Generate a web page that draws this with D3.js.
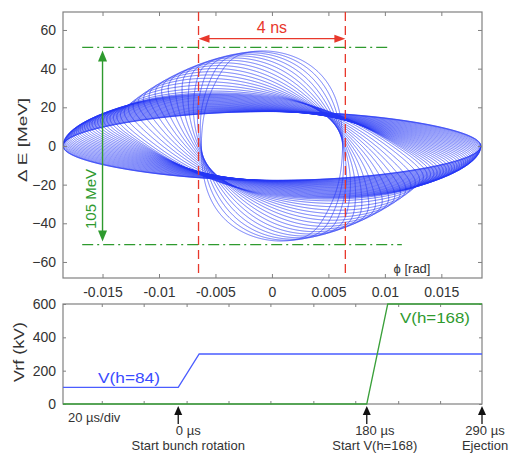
<!DOCTYPE html>
<html><head><meta charset="utf-8">
<script src="https://cdn.jsdelivr.net/npm/d3@7"></script>
<style>
body{margin:0;background:#fff;}
text{font-family:"Liberation Sans",Arial,sans-serif;}
</style>
</head><body>
<svg id="c" width="511" height="457"></svg>
<script>
// ---------- data ----------
const phiTicks = [-0.015, -0.01, -0.005, 0, 0.005, 0.01, 0.015];
const phiTickLabels = ["-0.015", "-0.01", "-0.005", "0", "0.005", "0.01", "0.015"];
const dETicks = [-60, -40, -20, 0, 20, 40, 60];
const vrfTicks = [0, 200, 400, 600];
const timeTicks = [-73, -33, 8, 48, 88, 129, 169, 210, 250];
const vh84Times = [-110, 0, 20, 290];
const vh84Values = [100, 100, 300, 300];
const vh168Times = [-110, 180, 200, 290];
const vh168Values = [0, 0, 600, 600];
const markerTimes = [0, 180, 290];
const markerLabels = ["0 µs", "180 µs", "290 µs"];
const markerCaptions = ["Start bunch rotation", "Start V(h=168)", "Ejection"];
const bunchLengthMarks = [-0.0065, 0.0065];   // rad (4 ns)
const energySpreadMarks = [-51, 51];          // MeV (105 MeV)
// longitudinal tracking parameters
const harmonic = 84;            // main RF harmonic (second RF at 2x)
const refVoltage = 300;         // kV
const energyUnit = 22;          // MeV per normalised momentum unit
const syncRate = 0.0063;        // rad/us small-amplitude synchrotron rate at 300 kV
const bunchHalfPhase = 0.0185;  // rad, initial bunch tips
const snapshotTimes = [0, 6, 12, 18, 24, 30, 36, 42, 48, 54, 60, 66, 72, 78, 84, 90, 96,
  102, 108, 114, 120, 126, 132, 138, 144, 150, 156, 162, 168, 174, 180, 186, 192, 198,
  204, 210, 216, 222, 228, 234, 240, 246, 252, 258, 264, 270, 276, 282, 288];

// ---------- layout ----------
const svg = d3.select("#c");
const TOP = {l: 63, r: 482, t: 12, b: 278};
const BOT = {l: 63, r: 482, t: 304, b: 404};
const frameCol = "#808080", textCol = "#333";
const blue = "#2436f4", red = "#e8382c", green = "#2e9a2e";

const x = d3.scaleLinear([-0.0185, 0.0186], [TOP.l, TOP.r]);
const y = d3.scaleLinear([-68.3, 69.3], [TOP.b, TOP.t]);
const xb = d3.scaleLinear([-110, 290], [BOT.l, BOT.r]);
const yb = d3.scaleLinear([0, 600], [BOT.b, BOT.t]);

const defs = svg.append("defs");
defs.append("clipPath").attr("id", "clipTop").append("rect")
  .attr("x", TOP.l).attr("y", TOP.t).attr("width", TOP.r - TOP.l).attr("height", TOP.b - TOP.t);
defs.append("clipPath").attr("id", "clipBot").append("rect")
  .attr("x", BOT.l).attr("y", BOT.t - 1).attr("width", BOT.r - BOT.l).attr("height", BOT.b - BOT.t + 2);

// ---------- phase-space tracking driven by the RF programme ----------
const v84 = d3.scaleLinear(vh84Times, vh84Values).clamp(true);
const v168 = d3.scaleLinear(vh168Times, vh168Values).clamp(true);
const th0 = bunchHalfPhase * harmonic;
const vInit = v84(0) / refVoltage;
const M = 2000;
let pts = [];
for (let i = 0; i < M; i++) {
  const s = 2 * Math.PI * i / M;
  const th = th0 * Math.cos(s);
  const pp = Math.sqrt(Math.max(0, 2 * vInit * (Math.cos(th) - Math.cos(th0))));
  pts.push([th, Math.sin(s) >= 0 ? pp : -pp]);
}
const dtUs = 0.5, dtau = syncRate * dtUs;
function deriv(th, p, a1, a2) { return [p, -(a1 * Math.sin(th) + a2 * Math.sin(2 * th))]; }
function step(pt, tUs) {
  const a1 = v84(tUs + dtUs / 2) / refVoltage, a2 = v168(tUs + dtUs / 2) / refVoltage;
  const [t, p] = pt;
  const k1 = deriv(t, p, a1, a2);
  const k2 = deriv(t + dtau / 2 * k1[0], p + dtau / 2 * k1[1], a1, a2);
  const k3 = deriv(t + dtau / 2 * k2[0], p + dtau / 2 * k2[1], a1, a2);
  const k4 = deriv(t + dtau * k3[0], p + dtau * k3[1], a1, a2);
  return [t + dtau / 6 * (k1[0] + 2 * k2[0] + 2 * k3[0] + k4[0]),
          p + dtau / 6 * (k1[1] + 2 * k2[1] + 2 * k3[1] + k4[1])];
}
const snapshots = [];
let tNow = 0, si = 0;
while (si < snapshotTimes.length) {
  if (Math.abs(tNow - snapshotTimes[si]) < dtUs / 2) {
    snapshots.push(pts.map(d => [d[0] / harmonic, d[1] * energyUnit]));
    si++;
    continue;
  }
  pts = pts.map(d => step(d, tNow));
  tNow += dtUs;
}

// ---------- top plot ----------
const gTop = svg.append("g");
const line = d3.line().x(d => x(d[0])).y(d => y(d[1]));
gTop.append("g").attr("clip-path", "url(#clipTop)")
  .selectAll("path").data(snapshots).join("path")
  .attr("d", d => line(d) + "Z")
  .attr("fill", "none").attr("stroke", blue).attr("stroke-width", 0.8).attr("stroke-opacity", 0.85);

gTop.append("rect").attr("x", TOP.l).attr("y", TOP.t).attr("width", TOP.r - TOP.l).attr("height", TOP.b - TOP.t)
  .attr("fill", "none").attr("stroke", frameCol).attr("stroke-width", 1.2);

function styleAxis(g) {
  g.select(".domain").remove();
  g.selectAll(".tick line").attr("stroke", frameCol).attr("stroke-width", 1);
  g.selectAll(".tick text").attr("fill", textCol).attr("font-size", 14).attr("font-family", "Liberation Sans, Arial, sans-serif");
}
gTop.append("g").attr("transform", `translate(0,${TOP.b})`)
  .call(d3.axisBottom(x).tickValues(phiTicks).tickFormat((d, i) => phiTickLabels[i]).tickSize(-4).tickPadding(9))
  .call(styleAxis);
gTop.append("g").attr("transform", `translate(0,${TOP.t})`)
  .call(d3.axisTop(x).tickValues(phiTicks).tickFormat("").tickSize(-4))
  .call(styleAxis);
gTop.append("g").attr("transform", `translate(${TOP.l},0)`)
  .call(d3.axisLeft(y).tickValues(dETicks).tickSize(-4).tickPadding(7))
  .call(styleAxis);
gTop.append("g").attr("transform", `translate(${TOP.r},0)`)
  .call(d3.axisRight(y).tickValues(dETicks).tickFormat("").tickSize(-4))
  .call(styleAxis);

gTop.selectAll("line.bl").data(bunchLengthMarks).join("line")
  .attr("x1", d => x(d)).attr("x2", d => x(d)).attr("y1", TOP.t).attr("y2", TOP.b)
  .attr("stroke", red).attr("stroke-width", 1.3).attr("stroke-dasharray", "9,5");
const greenEnds = [0.0115, 0.0105];
gTop.selectAll("line.es").data(energySpreadMarks).join("line")
  .attr("x1", x(-0.0168)).attr("x2", (d, i) => x(greenEnds[i]))
  .attr("y1", d => y(d)).attr("y2", d => y(d))
  .attr("stroke", green).attr("stroke-width", 1.2).attr("stroke-dasharray", "11,4,2,4");

const ay = y(55.5);
const rx1 = x(bunchLengthMarks[0]), rx2 = x(bunchLengthMarks[1]);
gTop.append("line").attr("x1", rx1 + 8).attr("x2", rx2 - 8).attr("y1", ay).attr("y2", ay)
  .attr("stroke", red).attr("stroke-width", 1.3);
gTop.append("path").attr("d", `M${rx1},${ay}L${rx1 + 11},${ay - 4}L${rx1 + 11},${ay + 4}Z`).attr("fill", red);
gTop.append("path").attr("d", `M${rx2},${ay}L${rx2 - 11},${ay - 4}L${rx2 - 11},${ay + 4}Z`).attr("fill", red);
gTop.append("text").attr("x", (rx1 + rx2) / 2).attr("y", 33).attr("text-anchor", "middle")
  .attr("fill", red).attr("font-size", 16).text("4 ns");

const gx = x(-0.015);
const gy1 = y(energySpreadMarks[1]), gy2 = y(energySpreadMarks[0]);
gTop.append("line").attr("x1", gx).attr("x2", gx).attr("y1", gy1 + 8).attr("y2", gy2 - 8)
  .attr("stroke", green).attr("stroke-width", 1.4);
gTop.append("path").attr("d", `M${gx},${gy1 + 3}L${gx - 4.5},${gy1 + 14}L${gx + 4.5},${gy1 + 14}Z`).attr("fill", green);
gTop.append("path").attr("d", `M${gx},${gy2 - 3}L${gx - 4.5},${gy2 - 14}L${gx + 4.5},${gy2 - 14}Z`).attr("fill", green);
gTop.append("text").attr("transform", `translate(96,199) rotate(-90)`).attr("text-anchor", "middle")
  .attr("fill", green).attr("font-size", 15).text("105 MeV");

gTop.append("text").attr("transform", `translate(27,140) rotate(-90)`).attr("text-anchor", "middle")
  .attr("fill", textCol).attr("font-size", 13).attr("textLength", 84).attr("lengthAdjust", "spacingAndGlyphs")
  .text("Δ E [MeV]");
gTop.append("text").attr("x", 412).attr("y", 273).attr("text-anchor", "middle")
  .attr("fill", textCol).attr("font-size", 13).text("ϕ [rad]");

// ---------- bottom plot ----------
const gBot = svg.append("g");
gBot.append("rect").attr("x", BOT.l).attr("y", BOT.t).attr("width", BOT.r - BOT.l).attr("height", BOT.b - BOT.t)
  .attr("fill", "none").attr("stroke", frameCol).attr("stroke-width", 1.2);
gBot.append("g").attr("transform", `translate(0,${BOT.b})`)
  .call(d3.axisBottom(xb).tickValues(timeTicks).tickFormat("").tickSize(-3)).call(styleAxis);
gBot.append("g").attr("transform", `translate(0,${BOT.t})`)
  .call(d3.axisTop(xb).tickValues(timeTicks).tickFormat("").tickSize(-3)).call(styleAxis);
gBot.append("g").attr("transform", `translate(${BOT.l},0)`)
  .call(d3.axisLeft(yb).tickValues(vrfTicks).tickSize(-3).tickPadding(7)).call(styleAxis);
gBot.append("g").attr("transform", `translate(${BOT.r},0)`)
  .call(d3.axisRight(yb).tickValues(vrfTicks).tickFormat("").tickSize(-3)).call(styleAxis);

const lineB = d3.line().x(d => xb(d[0])).y(d => yb(d[1]));
const gLines = gBot.append("g").attr("clip-path", "url(#clipBot)");
gLines.append("path").attr("d", lineB(vh84Times.map((t, i) => [t, vh84Values[i]])))
  .attr("fill", "none").attr("stroke", "#4a5cff").attr("stroke-width", 1.3);
gLines.append("path").attr("d", lineB(vh168Times.map((t, i) => [t, vh168Values[i]])))
  .attr("fill", "none").attr("stroke", "#3aa03a").attr("stroke-width", 1.3);

gBot.append("text").attr("x", 129).attr("y", 383).attr("text-anchor", "middle")
  .attr("fill", "#3a4cff").attr("font-size", 15).attr("textLength", 62).attr("lengthAdjust", "spacingAndGlyphs").text("V(h=84)");
gBot.append("text").attr("x", 435).attr("y", 323).attr("text-anchor", "middle")
  .attr("fill", "#2e9a2e").attr("font-size", 15).attr("textLength", 70).attr("lengthAdjust", "spacingAndGlyphs").text("V(h=168)");
gBot.append("text").attr("transform", `translate(24,352) rotate(-90)`).attr("text-anchor", "middle")
  .attr("fill", textCol).attr("font-size", 14).attr("textLength", 60).attr("lengthAdjust", "spacingAndGlyphs").text("Vrf (kV)");
gBot.append("text").attr("x", 68).attr("y", 422).attr("fill", textCol).attr("font-size", 13).text("20 µs/div");

const labelOffsets = [10, 8, 3];
markerTimes.forEach((t, i) => {
  const mx = xb(t);
  gBot.append("line").attr("x1", mx).attr("x2", mx).attr("y1", 414).attr("y2", 424)
    .attr("stroke", "#111").attr("stroke-width", 1.3);
  gBot.append("path").attr("d", `M${mx},${406}L${mx - 4},${415}L${mx + 4},${415}Z`).attr("fill", "#111");
  gBot.append("text").attr("x", mx + labelOffsets[i]).attr("y", 435).attr("text-anchor", "middle")
    .attr("fill", textCol).attr("font-size", 13).text(markerLabels[i]);
  gBot.append("text").attr("x", mx + labelOffsets[i]).attr("y", 450).attr("text-anchor", "middle")
    .attr("fill", textCol).attr("font-size", 13).text(markerCaptions[i]);
});
</script>
</body></html>
